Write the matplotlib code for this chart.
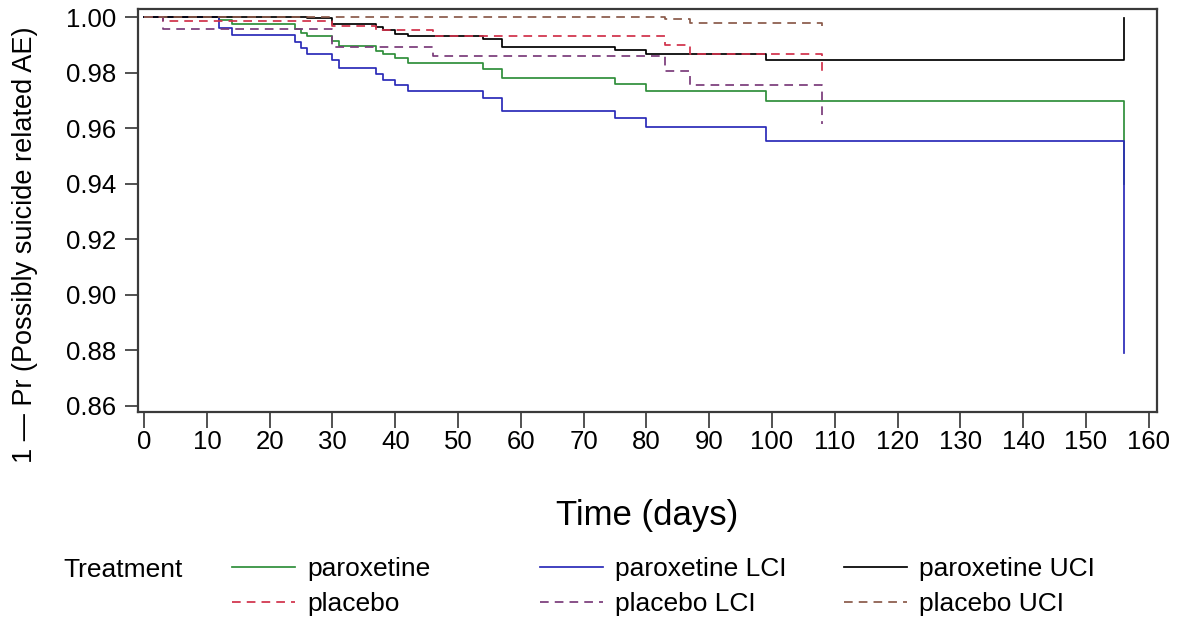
import matplotlib.pyplot as plt

plt.rcParams['font.family'] = ['Liberation Sans', 'DejaVu Sans']

# Kaplan-Meier step curves: event day -> value after that day
parox_days = [0, 12, 14, 24, 25, 26, 30, 31, 37, 38, 40, 42, 54, 57, 75, 80, 99, 156]
parox_est = [1.0, 0.9988, 0.9975, 0.9956, 0.9942, 0.9930, 0.9912, 0.9897, 0.9878,
             0.9866, 0.9851, 0.9833, 0.9812, 0.9782, 0.9758, 0.9732, 0.9698, 0.9398]
parox_lci = [1.0, 0.9962, 0.9936, 0.9911, 0.9890, 0.9866, 0.9844, 0.9818, 0.9796,
             0.9772, 0.9755, 0.9732, 0.9710, 0.9662, 0.9636, 0.9604, 0.9552, 0.8790]
parox_uci = [1.0, 1.0, 1.0, 1.0, 1.0, 0.9997, 0.9976, 0.9976, 0.9964,
             0.9952, 0.9940, 0.9930, 0.9920, 0.9892, 0.9881, 0.9866, 0.9845, 0.9995]

plac_days = [0, 3, 30, 37, 46, 83, 87, 108]
plac_est = [1.0, 0.9986, 0.9968, 0.9952, 0.9930, 0.9899, 0.9866, 0.9806]
plac_lci = [1.0, 0.9958, 0.9893, 0.9893, 0.9860, 0.9806, 0.9754, 0.9614]
plac_uci = [1.0, 1.0, 1.0, 1.0, 1.0, 0.9992, 0.9980, 0.9968]

x_ticks = list(range(0, 161, 10))
y_ticks = [0.86, 0.88, 0.90, 0.92, 0.94, 0.96, 0.98, 1.00]

W, H = 1177, 619
fig = plt.figure(figsize=(W / 100, H / 100), dpi=100)
ax = fig.add_axes([137.8 / W, 1 - 412 / H, (1157 - 137.8) / W, (412 - 9) / H])

dash = (0, (5, 3.5))
styles = [
    (parox_days, parox_est, 'paroxetine', dict(color='#2f8f3a', ls='-')),
    (parox_days, parox_lci, 'paroxetine LCI', dict(color='#2a2ab8', ls='-')),
    (parox_days, parox_uci, 'paroxetine UCI', dict(color='black', ls='-')),
    (plac_days, plac_est, 'placebo', dict(color='#d0304a', ls=dash)),
    (plac_days, plac_lci, 'placebo LCI', dict(color='#7a3a7a', ls=dash)),
    (plac_days, plac_uci, 'placebo UCI', dict(color='#8a5a4a', ls=dash)),
]
handles = {}
for days, vals, name, st in styles:
    ln, = ax.plot(days, vals, drawstyle='steps-post', lw=1.25, **st)
    handles[name] = ln

ax.set_xlim(-1.0, 161.3)
ax.set_ylim(0.8577, 1.0029)
ax.set_xticks(x_ticks)
ax.set_yticks(y_ticks)
ax.set_yticklabels([f'{v:.2f}' for v in y_ticks])
ax.tick_params(axis='x', length=11.5, width=1.2, pad=1.5, labelsize=18.5, color='#333333')
ax.tick_params(axis='y', length=9.5, width=1.2, pad=6, labelsize=18.5, color='#333333')
for sp in ax.spines.values():
    sp.set_linewidth(1.6)
    sp.set_color('#3a3a3a')

ax.set_xlabel('Time (days)', fontsize=25)
ax.xaxis.set_label_coords(0.5, -0.215)
ax.set_ylabel('1 \u2014 Pr (Possibly suicide related AE)', fontsize=19.5)
ax.yaxis.set_label_coords(-0.098, 0.415)

# legend: title on the left, three two-row columns
fig.text(63 / W, 1 - 570 / H, 'Treatment', fontsize=19, ha='left', va='center')
columns = [(232, ['paroxetine', 'placebo']),
           (540, ['paroxetine LCI', 'placebo LCI']),
           (844, ['paroxetine UCI', 'placebo UCI'])]
for x0, names in columns:
    fig.legend([handles[n] for n in names], names, loc='upper left',
               bbox_to_anchor=(x0 / W, 1 - 557 / H), frameon=False,
               fontsize=19, handlelength=2.4, handletextpad=0.45,
               borderpad=0, borderaxespad=0, labelspacing=0.42)

fig.savefig('out.png', dpi=100)
